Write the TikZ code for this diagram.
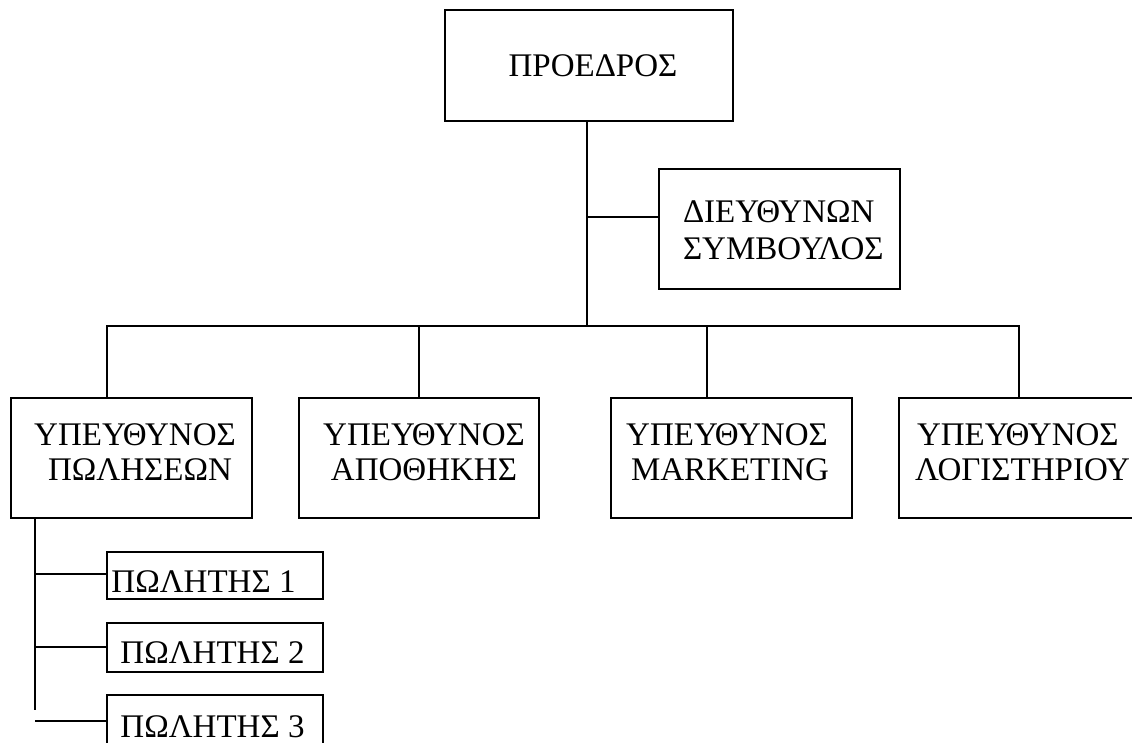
\documentclass[tikz,border=0pt]{standalone}
\usepackage{fontspec}
\setmainfont{Liberation Serif}
\begin{document}
\begin{tikzpicture}[x=1pt,y=-1pt,
  box/.style={draw=black,line width=1.5pt,rectangle,inner sep=0pt,outer sep=0pt,fill=none},
  txt/.style={inner sep=0pt,outer sep=0pt,font=\fontsize{33}{37}\selectfont},
  conn/.style={draw=black,line width=1.5pt}]
\useasboundingbox[fill=white] (0,0) rectangle (1132,743);
% boxes
\node[box,minimum width=288pt,minimum height=111pt] (pres) at (589,65.5) {};
\node[box,minimum width=241pt,minimum height=120pt] (ceo) at (779.5,229) {};
\node[box,minimum width=241pt,minimum height=120pt] (b1) at (131.5,458) {};
\node[box,minimum width=240pt,minimum height=120pt] (b2) at (419,458) {};
\node[box,minimum width=241pt,minimum height=120pt] (b3) at (731.5,458) {};
\node[box,minimum width=241pt,minimum height=120pt] (b4) at (1019.5,458) {};
\node[box,minimum width=216pt,minimum height=47pt] (p1) at (215,575.5) {};
\node[box,minimum width=216pt,minimum height=49pt] (p2) at (215,647.5) {};
\node[box,minimum width=216pt,minimum height=50pt] (p3) at (215,720) {};
% texts
\node[txt,anchor=base] (tpres) at (593,77) {ΠΡΟΕΔΡΟΣ};
\node[txt,anchor=base west] (tceo1) at (683,223) {ΔΙΕΥΘΥΝΩΝ};
\node[txt,anchor=base west] (tceo2) at (683,260) {ΣΥΜΒΟΥΛΟΣ};
\node[txt,anchor=base] (tb1a) at (135,445) {ΥΠΕΥΘΥΝΟΣ};
\node[txt,anchor=base] (tb1b) at (140,480) {ΠΩΛΗΣΕΩΝ};
\node[txt,anchor=base] (tb2a) at (424,445) {ΥΠΕΥΘΥΝΟΣ};
\node[txt,anchor=base] (tb2b) at (424,480) {ΑΠΟΘΗΚΗΣ};
\node[txt,anchor=base] (tb3a) at (727,445) {ΥΠΕΥΘΥΝΟΣ};
\node[txt,anchor=base] (tb3b) at (730,480) {MARKETING};
\node[txt,anchor=base west] (tb4a) at (917,445) {ΥΠΕΥΘΥΝΟΣ};
\node[txt,anchor=base west] (tb4b) at (915,480) {ΛΟΓΙΣΤΗΡΙΟΥ};
\node[txt,anchor=base] (tp1) at (203.5,592) {ΠΩΛΗΤΗΣ 1};
\node[txt,anchor=base] (tp2) at (212.5,663) {ΠΩΛΗΤΗΣ 2};
\node[txt,anchor=base] (tp3) at (212.5,737) {ΠΩΛΗΤΗΣ 3};
% junction coordinates
\coordinate (bus) at (587,326);
\coordinate (ceoj) at (587,217);
\coordinate (d1) at (107,398);
\coordinate (d2) at (419,398);
\coordinate (d3) at (707,398);
\coordinate (d4) at (1019,398);
\coordinate (st) at (35,518);
\coordinate (se) at (35,710);
\coordinate (s1) at (35,574);
\coordinate (s2) at (35,647);
\coordinate (s3) at (35,721);
% connectors
\draw[conn] (pres.south -| bus) -- (bus);
\draw[conn] (ceoj) -- (ceoj -| ceo.west);
\draw[conn] (d1) -- (d1 |- bus) -- (d4 |- bus) -- (d4);
\draw[conn] (d2) -- (d2 |- bus);
\draw[conn] (d3) -- (d3 |- bus);
\draw[conn] (st) -- (se);
\draw[conn] (s1) -- (s1 -| p1.west);
\draw[conn] (s2) -- (s2 -| p2.west);
\draw[conn] (s3) -- (s3 -| p3.west);
\end{tikzpicture}
\end{document}
